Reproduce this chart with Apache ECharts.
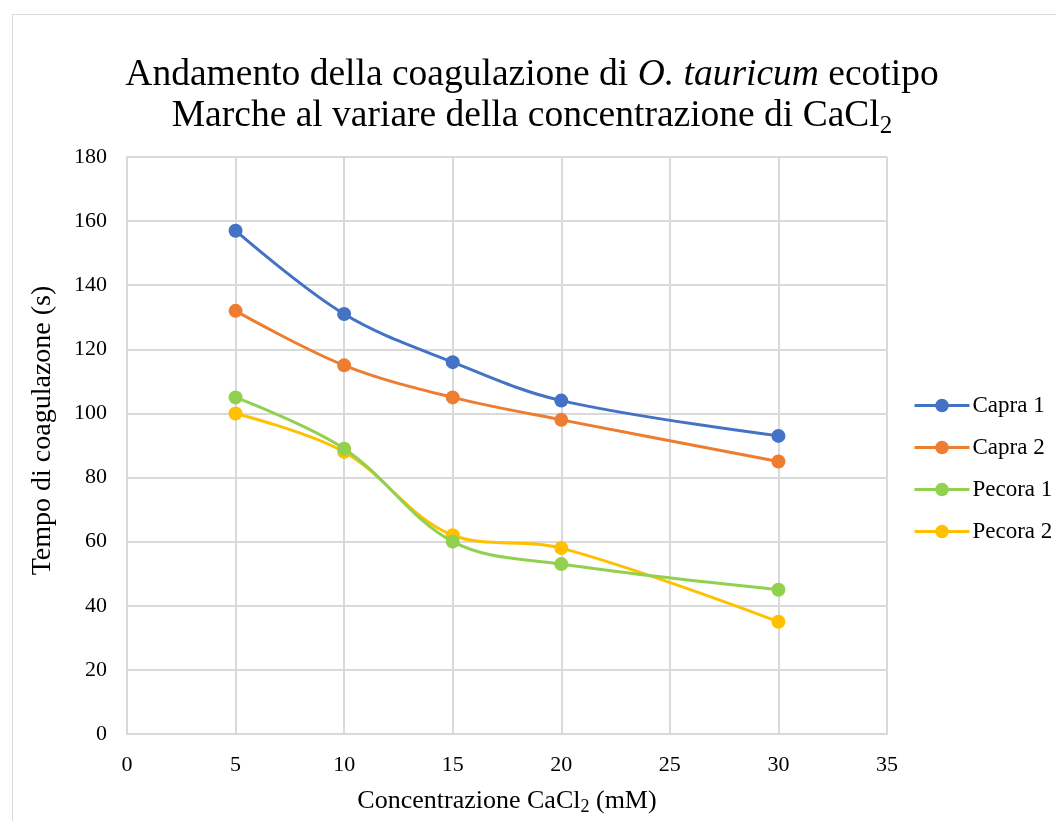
<!DOCTYPE html>
<html>
<head>
<meta charset="utf-8">
<script src="https://cdn.jsdelivr.net/npm/echarts@6/dist/echarts.min.js"></script>
<style>
  html, body { margin: 0; padding: 0; background: #fff; width: 1056px; height: 821px; overflow: hidden; }
  #frame { position: absolute; left: 12px; top: 14px; width: 1060px; height: 820px; border: 1px solid #d9d9d9; box-sizing: border-box; }
  #chart { position: absolute; left: 0; top: 0; width: 1056px; height: 821px; }
</style>
</head>
<body>
<div id="frame"></div>
<div id="chart"></div>
<script>
// Calcium chloride concentration (mM)
const concentrations = [5, 10, 15, 20, 30];
// Coagulation time (s) per milk sample
const capra1 = [157, 131, 116, 104, 93];
const capra2 = [132, 115, 105, 98, 85];
const pecora1 = [105, 89, 60, 53, 45];
const pecora2 = [100, 88, 62, 58, 35];
const seriesNames = ['Capra 1', 'Capra 2', 'Pecora 1', 'Pecora 2'];
const seriesValues = [capra1, capra2, pecora1, pecora2];
const colors = ['#4472C4', '#ED7D31', '#92D050', '#FFC000'];

const FONT = 'Liberation Serif';

const chart = echarts.init(document.getElementById('chart'), null, { renderer: 'canvas', width: 1056, height: 821 });

const series = seriesNames.map((name, i) => ({
  name,
  type: 'line',
  smooth: 0.35,
  symbol: 'circle',
  symbolSize: 14,
  data: concentrations.map((c, k) => [c, seriesValues[i][k]]),
  itemStyle: { color: colors[i] },
  lineStyle: { color: colors[i], width: 3 },
  emphasis: { disabled: true },
  z: 10 - i
}));

chart.setOption({
  animation: false,
  backgroundColor: 'transparent',
  textStyle: { fontFamily: FONT },
  title: {
    left: 527,
    top: 50,
    textAlign: 'center',
    text: 'Andamento della coagulazione di {i|O. tauricum} ecotipo\nMarche al variare della concentrazione di CaCl{sub|2}',
    textStyle: {
      fontFamily: FONT,
      fontSize: 37.5,
      fontWeight: 'normal',
      color: '#000',
      lineHeight: 41,
      rich: {
        i: { fontFamily: FONT, fontSize: 37.5, fontStyle: 'italic', color: '#000', lineHeight: 41 },
        sub: { fontFamily: FONT, fontSize: 25, color: '#000', lineHeight: 41, padding: [19, 0, 0, 0] }
      }
    }
  },
  legend: {
    orient: 'vertical',
    left: 913,
    top: 394,
    padding: 0,
    itemWidth: 55,
    itemHeight: 17,
    itemGap: 19,
    data: seriesNames,
    lineStyle: { width: 3 },
    textStyle: { fontFamily: FONT, fontSize: 23, color: '#000', lineHeight: 23, padding: [0, 0, 0, -2] }
  },
  grid: { left: 127, top: 157, right: 169, bottom: 80, containLabel: false },
  xAxis: {
    type: 'value',
    min: 0,
    max: 35,
    interval: 5,
    name: 'Concentrazione CaCl{sub|2} (mM)',
    nameLocation: 'middle',
    nameGap: 52,
    nameTextStyle: {
      fontFamily: FONT, fontSize: 26, color: '#000',
      rich: { sub: { fontFamily: FONT, fontSize: 18, color: '#000', padding: [12, 0, 0, 0] } }
    },
    axisLine: { show: true, lineStyle: { color: '#d9d9d9', width: 2 } },
    axisTick: { show: false },
    axisLabel: { fontFamily: FONT, fontSize: 22, color: '#000', margin: 20 },
    splitLine: { show: true, lineStyle: { color: '#d9d9d9', width: 2 } }
  },
  yAxis: {
    type: 'value',
    min: 0,
    max: 180,
    interval: 20,
    name: 'Tempo di coagulazone (s)',
    nameLocation: 'middle',
    nameGap: 70,
    nameTextStyle: { fontFamily: FONT, fontSize: 28, color: '#000', padding: [0, 0, 0, 30] },
    axisLine: { show: true, lineStyle: { color: '#d9d9d9', width: 2 } },
    axisTick: { show: false },
    axisLabel: { fontFamily: FONT, fontSize: 22, color: '#000', margin: 20 },
    splitLine: { show: true, lineStyle: { color: '#d9d9d9', width: 2 } }
  },
  series
});
</script>
</body>
</html>
